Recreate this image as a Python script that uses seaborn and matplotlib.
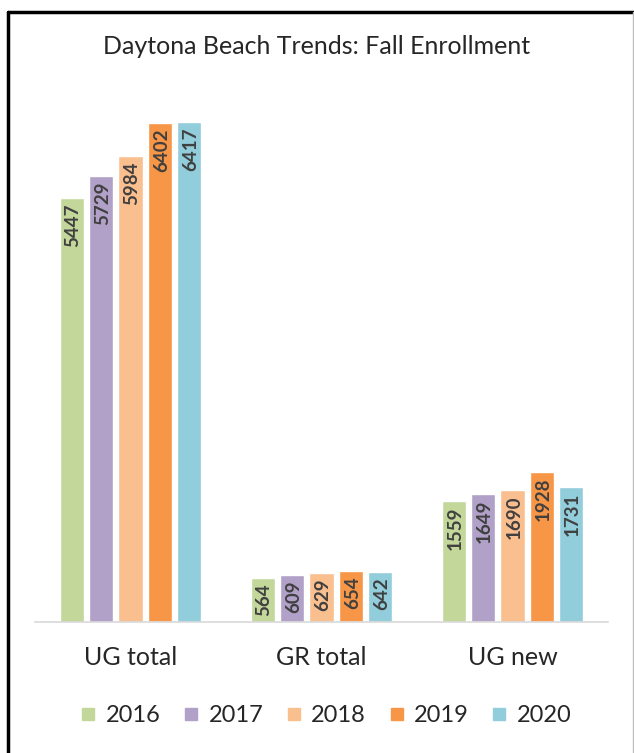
import numpy as np
import pandas as pd
import seaborn as sns
import matplotlib.pyplot as plt
from matplotlib.lines import Line2D

categories = ['UG total', 'GR total', 'UG new']
years = ['2016', '2017', '2018', '2019', '2020']
v2016 = [5447, 564, 1559]
v2017 = [5729, 609, 1649]
v2018 = [5984, 629, 1690]
v2019 = [6402, 654, 1928]
v2020 = [6417, 642, 1731]
colors = ['#c4d79b', '#b1a0c7', '#fabf8f', '#f79646', '#92cddc']

rows = []
for yr, vals in zip(years, [v2016, v2017, v2018, v2019, v2020]):
    for c, v in zip(categories, vals):
        rows.append({'category': c, 'year': yr, 'value': v})
df = pd.DataFrame(rows)

sns.set_style('white')
plt.rcParams['font.family'] = ['Lato', 'DejaVu Sans']

fig = plt.figure(figsize=(6.34, 7.53), dpi=100)
ax = fig.add_axes([35/634, 1-622/753, (608-35)/634, (622-76.6)/753])

sns.barplot(data=df, x='category', y='value', hue='year', order=categories,
            hue_order=years, palette=colors, width=0.77, gap=0.18,
            saturation=1, ax=ax, legend=False)

# value labels, rotated, inside the top of each bar
for cont in ax.containers:
    for bar in cont:
        h = bar.get_height()
        ax.annotate(f'{int(h)}', (bar.get_x() + bar.get_width()/2, h),
                    xytext=(1, -4), textcoords='offset points',
                    rotation=90, ha='center', va='top',
                    fontsize=13.5, fontweight='bold', color='#404040')

ax.set_ylim(0, 7000)
ax.set_xlim(-0.5, 2.5)
ax.set_xlabel('')
ax.set_ylabel('')
ax.set_yticks([])
for s in ['top', 'right', 'left']:
    ax.spines[s].set_visible(False)
ax.spines['bottom'].set_color('#d9d9d9')
ax.spines['bottom'].set_linewidth(1.2)
ax.set_xticks([0, 1, 2])
ax.set_xticklabels(categories, fontsize=18, color='#262626')
ax.tick_params(axis='x', which='major', length=0, pad=17)
ax.set_xticks([-0.5, 0.5, 1.5, 2.5], minor=True)
ax.tick_params(axis='x', which='minor', length=7, color='#d9d9d9', width=1.2)

fig.text(0.5, 1-47/753, 'Daytona Beach Trends: Fall Enrollment',
         ha='center', va='center', fontsize=18, color='#262626')

handles = [Line2D([], [], marker='s', linestyle='', markersize=9,
                  markerfacecolor=c, markeredgecolor=c) for c in colors]
fig.legend(handles, years, loc='center', bbox_to_anchor=(0.511, 1-716/753),
           ncol=5, frameon=False, fontsize=17, handletextpad=0.23,
           columnspacing=0.8, handlelength=1.0)

# outer frame
fig.add_artist(Line2D([8/634, 8/634], [0, 1-12/753], color='black', lw=2.5,
                      transform=fig.transFigure))
fig.add_artist(Line2D([8/634, 1], [1-12/753, 1-12/753], color='black', lw=2.5,
                      transform=fig.transFigure))
fig.add_artist(Line2D([633/634, 633/634], [0, 1-12/753], color='#bfbfbf', lw=1,
                      transform=fig.transFigure))

fig.savefig('out.png', dpi=100)
